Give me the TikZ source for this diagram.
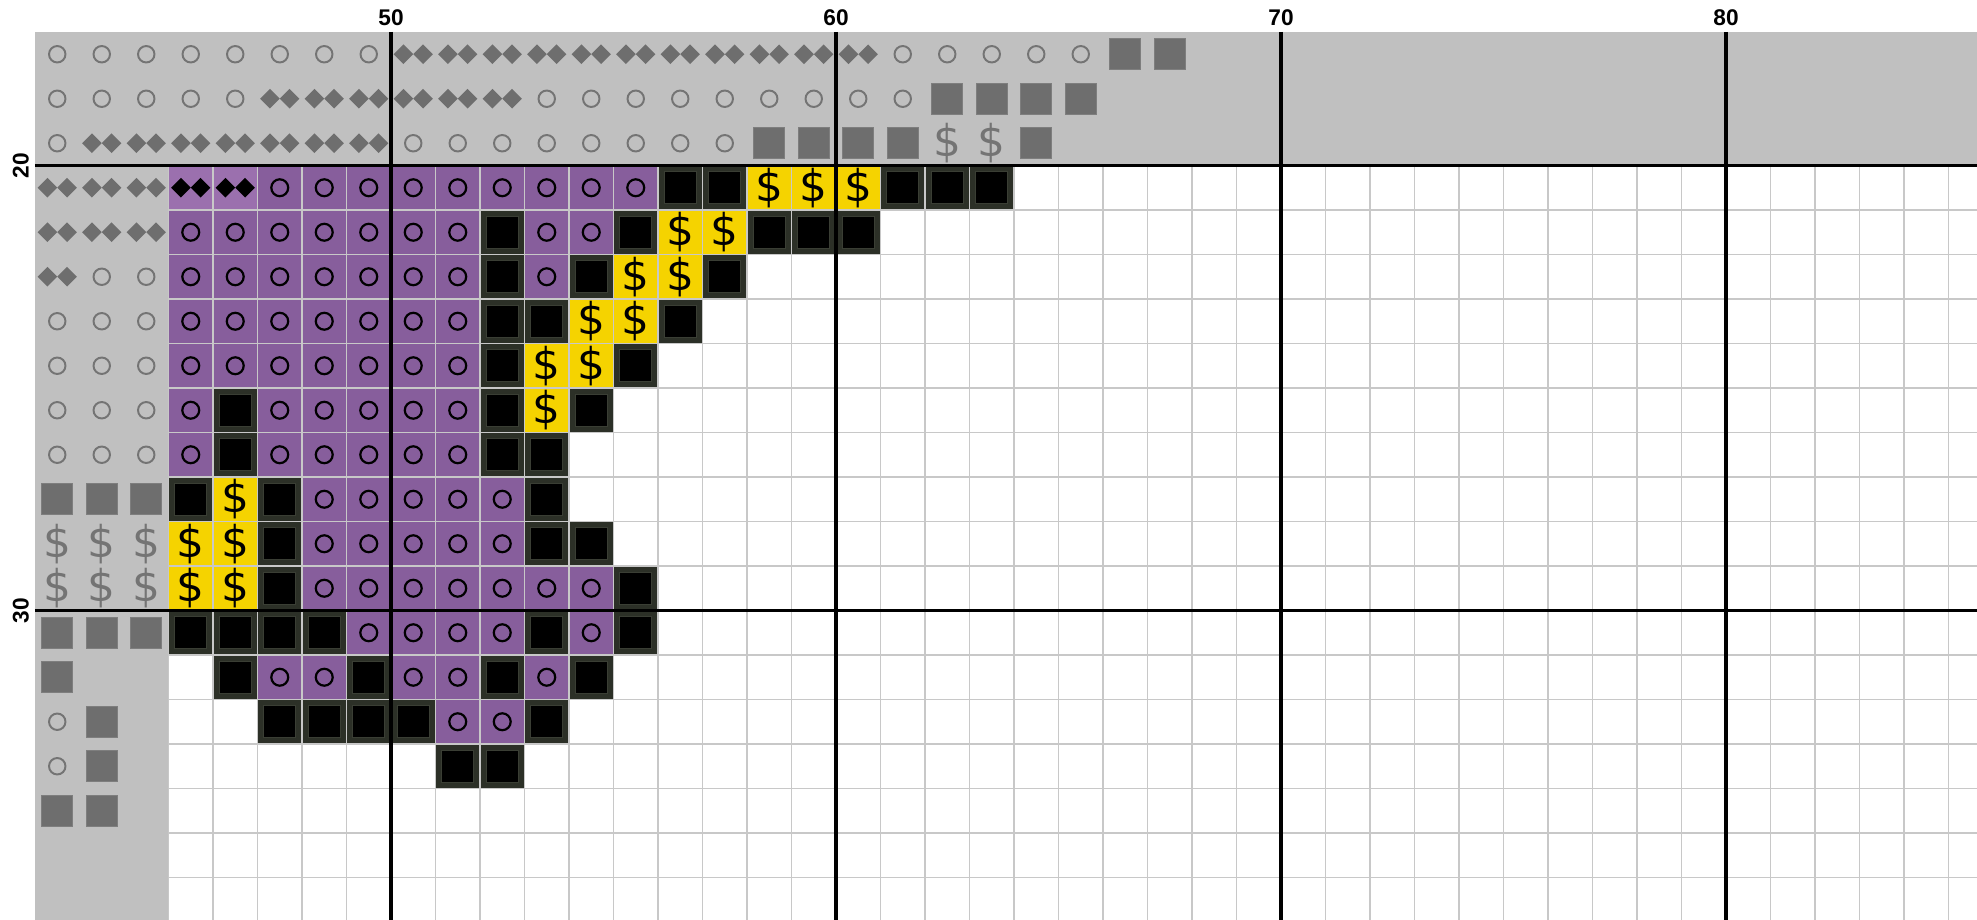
\documentclass[tikz,border=0pt]{standalone}
\usepackage{fontspec}
\setmainfont{Liberation Sans}
\newfontfamily\dvfont{DejaVu Sans}
\definecolor{purp}{HTML}{875E9C}
\definecolor{lpurp}{HTML}{9B70AE}
\definecolor{gold}{HTML}{F5D300}
\definecolor{bandgray}{HTML}{C0C0C0}
\definecolor{symgray}{HTML}{6E6E6E}
\definecolor{symedge}{HTML}{7E7E7E}
\definecolor{cgray}{HTML}{747474}
\definecolor{blkedge}{HTML}{2C3027}
\definecolor{blkin}{HTML}{3A3E34}
\definecolor{gridgray}{HTML}{C8C8C8}
% cell drawing macros (column, row)
\newcommand\CellO[2]{%
  \fill[purp] (#1,-#2) rectangle ++(1,-1);
  \draw[line width=1.4pt] (#1+0.5,-#2-0.5) circle (0.19);}
\newcommand\CellD[2]{%
  \fill[lpurp] (#1,-#2) rectangle ++(1,-1);
  \fill[black] (#1+0.06,-#2-0.5) -- ++(0.22,0.22) -- ++(0.22,-0.22) -- ++(-0.22,-0.22) -- cycle;
  \fill[black] (#1+0.5,-#2-0.5) -- ++(0.22,0.22) -- ++(0.22,-0.22) -- ++(-0.22,-0.22) -- cycle;}
\newcommand\CellY[2]{%
  \fill[gold] (#1,-#2) rectangle ++(1,-1);
  \node[dollar] (y#1-#2) at (#1+0.5,-#2-0.5) {\$};}
\newcommand\CellB[2]{%
  \fill[blkedge] (#1,-#2) rectangle ++(1,-1);
  \filldraw[fill=black,draw=blkin,line width=0.5pt] (#1+0.14,-#2-0.14) rectangle (#1+0.86,-#2-0.86);}
\newcommand\GrC[2]{%
  \draw[cgray,line width=1.25pt] (#1+0.5,-#2-0.5) circle (0.185);}
\newcommand\GrD[2]{%
  \fill[symgray] (#1+0.06,-#2-0.5) -- ++(0.22,0.22) -- ++(0.22,-0.22) -- ++(-0.22,-0.22) -- cycle;
  \fill[symgray] (#1+0.5,-#2-0.5) -- ++(0.22,0.22) -- ++(0.22,-0.22) -- ++(-0.22,-0.22) -- cycle;}
\newcommand\GrS[2]{%
  \filldraw[fill=symgray,draw=symedge,line width=0.6pt] (#1+0.15,-#2-0.15) rectangle (#1+0.85,-#2-0.85);}
\newcommand\GrM[2]{%
  \node[dollar,text=cgray] (g#1-#2) at (#1+0.5,-#2-0.5) {\$};}
\begin{document}
\begin{tikzpicture}[x=1cm,y=1cm,
  thinline/.style={draw=gridgray,line width=1.2pt},
  major/.style={draw=black,line width=2.4pt},
  axlab/.style={font=\fontsize{14.5}{14.5}\selectfont\bfseries, inner sep=0pt},
  dollar/.style={font=\dvfont\fontsize{28}{28}\selectfont, inner sep=0pt},
]
\useasboundingbox (-0.7865,0.719) rectangle (43.6404,-19.955);
\clip (-0.7865,0.719) rectangle (43.6404,-19.955);
\fill[white] (-0.7865,0.719) rectangle (43.6404,-19.955);
% gray regions
\fill[bandgray] (0,0) rectangle (44,-3);
\fill[bandgray] (0,0) rectangle (3,-21);
% purple circle cells
\foreach \j/\L in {3/{5,6,7,8,9,10,11,12,13}, 4/{3,4,5,6,7,8,9,11,12}, 5/{3,4,5,6,7,8,9,11},
  6/{3,4,5,6,7,8,9}, 7/{3,4,5,6,7,8,9}, 8/{3,5,6,7,8,9}, 9/{3,5,6,7,8,9},
  10/{6,7,8,9,10}, 11/{6,7,8,9,10}, 12/{6,7,8,9,10,11,12}, 13/{7,8,9,10,12},
  14/{5,6,8,9,11}, 15/{9,10}}{\foreach \i in \L {\CellO{\i}{\j}}}
% light purple diamond cells
\CellD{3}{3}\CellD{4}{3}
% yellow dollar cells
\foreach \j/\L in {3/{16,17,18}, 4/{14,15}, 5/{13,14}, 6/{12,13}, 7/{11,12}, 8/{11},
  10/{4}, 11/{3,4}, 12/{3,4}}{\foreach \i in \L {\CellY{\i}{\j}}}
% black cells
\foreach \j/\L in {3/{14,15,19,20,21}, 4/{10,13,16,17,18}, 5/{10,12,15}, 6/{10,11,14},
  7/{10,13}, 8/{4,10,12}, 9/{4,10,11}, 10/{3,5,11}, 11/{5,11,12}, 12/{5,13},
  13/{3,4,5,6,11,13}, 14/{4,7,10,12}, 15/{5,6,7,8,11}, 16/{9,10}}{\foreach \i in \L {\CellB{\i}{\j}}}
% thin grid
\foreach \x in {3,...,43} {\draw[thinline] (\x,-3) -- (\x,-21);}
\foreach \y in {3,...,20} {\draw[thinline] (3,-\y) -- (44,-\y);}
% gray symbols: circles
\foreach \j/\L in {0/{0,1,2,3,4,5,6,7,19,20,21,22,23}, 1/{0,1,2,3,4,11,12,13,14,15,16,17,18,19},
  2/{0,8,9,10,11,12,13,14,15}, 5/{1,2}, 6/{0,1,2}, 7/{0,1,2}, 8/{0,1,2}, 9/{0,1,2},
  15/{0}, 16/{0}}{\foreach \i in \L {\GrC{\i}{\j}}}
% gray diamonds
\foreach \j/\L in {0/{8,9,10,11,12,13,14,15,16,17,18}, 1/{5,6,7,8,9,10}, 2/{1,2,3,4,5,6,7},
  3/{0,1,2}, 4/{0,1,2}, 5/{0}}{\foreach \i in \L {\GrD{\i}{\j}}}
% gray squares
\foreach \j/\L in {0/{24,25}, 1/{20,21,22,23}, 2/{16,17,18,19,22}, 10/{0,1,2}, 13/{0,1,2},
  14/{0}, 15/{1}, 16/{1}, 17/{0,1}}{\foreach \i in \L {\GrS{\i}{\j}}}
% gray dollars
\foreach \j/\L in {2/{20,21}, 11/{0,1,2}, 12/{0,1,2}}{\foreach \i in \L {\GrM{\i}{\j}}}
% major lines
\foreach \x in {8,18,28,38} {\draw[major] (\x,0) -- (\x,-21);}
\foreach \y in {3,13} {\draw[major] (0,-\y) -- (44,-\y);}
% axis labels
\node[axlab,anchor=south] (c50) at (8,0.13) {50};
\node[axlab,anchor=south] (c60) at (18,0.13) {60};
\node[axlab,anchor=south] (c70) at (28,0.13) {70};
\node[axlab,anchor=south] (c80) at (38,0.13) {80};
\node[axlab,anchor=south,rotate=90] (r20) at (-0.13,-3) {20};
\node[axlab,anchor=south,rotate=90] (r30) at (-0.13,-13) {30};
\end{tikzpicture}
\end{document}
